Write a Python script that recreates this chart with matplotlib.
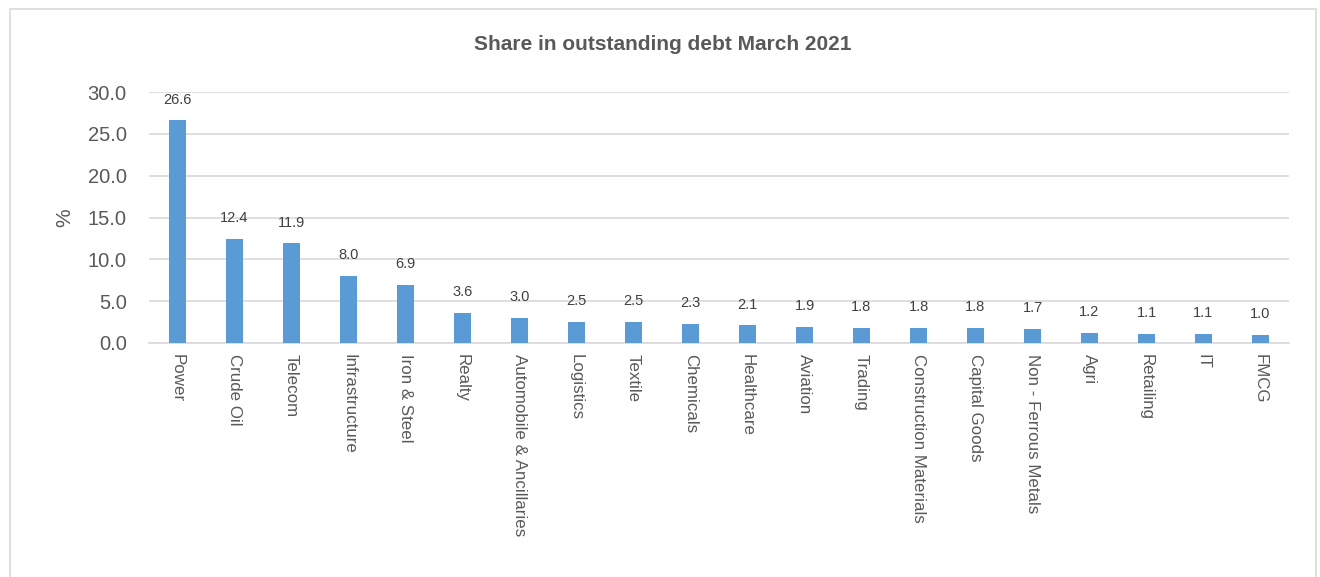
import matplotlib
matplotlib.use("Agg")
import matplotlib.pyplot as plt
from matplotlib.patches import Rectangle

categories = ["Power", "Crude Oil", "Telecom", "Infrastructure", "Iron & Steel", "Realty",
              "Automobile & Ancillaries", "Logistics", "Textile", "Chemicals", "Healthcare",
              "Aviation", "Trading", "Construction Materials", "Capital Goods",
              "Non - Ferrous Metals", "Agri", "Retailing", "IT", "FMCG"]
values = [26.6, 12.4, 11.9, 8.0, 6.9, 3.6, 3.0, 2.5, 2.5, 2.3, 2.1, 1.9, 1.8, 1.8, 1.8,
          1.7, 1.2, 1.1, 1.1, 1.0]
yticks = [0, 5, 10, 15, 20, 25, 30]
title = "Share in outstanding debt March 2021"

plt.rcParams['font.family'] = ['Liberation Sans', 'DejaVu Sans']
TXT = "#595959"

fig = plt.figure(figsize=(13.2, 5.77), dpi=100)
fig.patches.append(Rectangle((10/1320, -0.1), (1316-10)/1320, 1.1 - 9/577,
                             transform=fig.transFigure, fill=False,
                             edgecolor="#d9d9d9", linewidth=1.2))
ax = fig.add_axes([149/1320, 1-343/577, (1289-149)/1320, (343-92)/577])

x = list(range(len(categories)))
ax.bar(x, values, width=0.31, color="#5b9bd5", zorder=3)
ax.set_xlim(-0.5, len(categories) - 0.5)
ax.set_ylim(0, 30)
ax.set_yticks(yticks)
ax.set_yticklabels([f"{v:.1f}" for v in yticks], fontsize=14.5, color=TXT)
ax.set_xticks(x)
ax.set_xticklabels(categories, rotation=-90, fontsize=12.2, color=TXT, va="top", ha="center")
ax.tick_params(axis="both", length=0)
ax.tick_params(axis="y", pad=16)
ax.tick_params(axis="x", pad=8)
ax.grid(axis="y", color="#d9d9d9", linewidth=1.2, zorder=0)
for s in ["top", "right", "left"]:
    ax.spines[s].set_visible(False)
ax.spines["bottom"].set_color("#d9d9d9")
ax.spines["bottom"].set_linewidth(1.2)

for xi, v in zip(x, values):
    ax.annotate(f"{v:.1f}", (xi, v), xytext=(0, 10), textcoords="offset points",
                ha="center", va="bottom", fontsize=10.5, color="#404040")

ax.set_ylabel("%", fontsize=15, color=TXT, labelpad=10)
fig.text(663/1320, 1-45/577, title, ha="center", va="center", fontsize=15,
         fontweight="bold", color=TXT)

fig.savefig("out.png", dpi=100)
